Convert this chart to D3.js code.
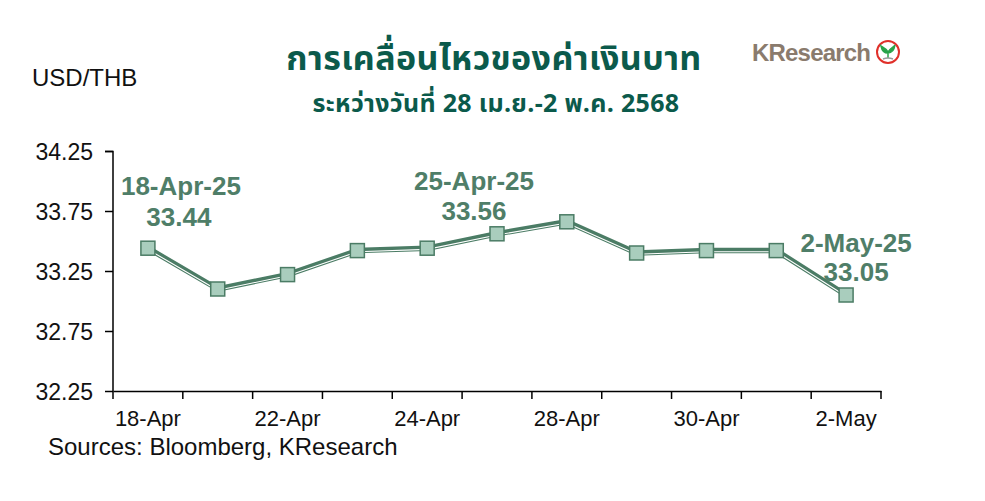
<!DOCTYPE html>
<html><head><meta charset="utf-8">
<script src="https://cdn.jsdelivr.net/npm/d3@7"></script>
<style>
html,body{margin:0;padding:0;background:#fff;}
svg{display:block;}
</style></head>
<body>
<svg id="c" width="985" height="501"></svg>
<script>
const categories = ["18-Apr","21-Apr","22-Apr","23-Apr","24-Apr","25-Apr","28-Apr","29-Apr","30-Apr","1-May","2-May"];
const values = [33.44, 33.10, 33.22, 33.42, 33.44, 33.56, 33.66, 33.40, 33.42, 33.42, 33.05];
const tickLabels = ["18-Apr","22-Apr","24-Apr","28-Apr","30-Apr","2-May"];
const yTicks = [32.25, 32.75, 33.25, 33.75, 34.25];
const callouts = [
  {cat:"18-Apr", date:"18-Apr-25", val:"33.44"},
  {cat:"25-Apr", date:"25-Apr-25", val:"33.56"},
  {cat:"2-May", date:"2-May-25", val:"33.05"}
];
const titleText = "การเคลื่อนไหวของค่าเงินบาท";
const subtitleText = "ระหว่างวันที่ 28 เม.ย.-2 พ.ค. 2568";

const svg = d3.select("#c");
const latin = "'Liberation Sans', Arial, sans-serif";
const thai = "'Noto Sans Thai', 'Noto Sans Thai UI', Tahoma, 'Noto Sans', sans-serif";
const lineC = "#4b7c65", fillC = "#a9cdbd", labelC = "#4f7e68";

const x = d3.scaleBand().domain(categories).range([113, 881]);
const y = d3.scaleLinear().domain([32.25, 34.25]).range([391, 151]);
const cx = d => x(d) + x.bandwidth()/2;

// Title
svg.append("text").attr("x", 494).attr("y", 70).attr("text-anchor","middle")
  .attr("font-family", thai).attr("font-weight","bold").attr("font-size", 34)
  .attr("letter-spacing", 0.4)
  .attr("fill","#0b5a4b").text(titleText);
svg.append("text").attr("x", 496).attr("y", 112).attr("text-anchor","middle")
  .attr("font-family", thai).attr("font-weight","bold").attr("font-size", 25)
  .attr("letter-spacing", 0.3)
  .attr("fill","#0b5a4b").text(subtitleText);

// Logo
svg.append("text").attr("x", 752).attr("y", 61).attr("font-family", latin)
  .attr("font-size", 24).attr("font-weight","bold").attr("fill","#8a7b6d")
  .attr("letter-spacing", -0.8).text("KResearch");
const lg = svg.append("g").attr("transform","translate(888,52)");
lg.append("circle").attr("r",11).attr("fill","#fff").attr("stroke","#e0302a").attr("stroke-width",2);
lg.append("path").attr("d","M0,6 L0,-1 M0,0 C-2,-4 -6,-5 -7,-6 C-6,-1 -3,1 0,1 M0,0 C2,-4 6,-5 7,-7 C6,-1 3,1 0,1")
  .attr("fill","#2aa34a").attr("stroke","#2aa34a").attr("stroke-width",1.5);
lg.append("path").attr("d","M-5,7 Q0,5 5,7").attr("fill","none").attr("stroke","#9a9a9a").attr("stroke-width",1.5);

// USD/THB
svg.append("text").attr("x", 32).attr("y", 86).attr("font-family", latin)
  .attr("font-size", 24).attr("fill","#111").text("USD/THB");

// Y axis
const yAxis = d3.axisLeft(y).tickValues(yTicks).tickFormat(d3.format(".2f")).tickSize(8).tickPadding(12);
const gy = svg.append("g").attr("transform","translate(113,0)").call(yAxis);
gy.select(".domain").attr("stroke","#000").attr("stroke-width",1.5).attr("d","M-8,151.5H0V391");
gy.selectAll(".tick line").attr("stroke","#000").attr("stroke-width",1.5);
gy.selectAll(".tick text").attr("font-family", latin).attr("font-size", 23).attr("fill","#111").attr("dy","0.35em");

// X axis
const xAxis = d3.axisBottom(x).tickValues([]).tickSizeOuter(0);
const gx = svg.append("g").attr("transform","translate(0,391)").call(xAxis);
gx.select(".domain").attr("stroke","#000").attr("stroke-width",1.5);
const edges = categories.map(c => x(c)).concat([x(categories[categories.length-1]) + x.bandwidth()]);
gx.selectAll("line.edge").data(edges).enter().append("line").attr("class","edge")
  .attr("x1", d=>d).attr("x2", d=>d).attr("y1",0).attr("y2",8).attr("stroke","#000").attr("stroke-width",1.5);
gx.selectAll("text.lbl").data(tickLabels).enter().append("text").attr("class","lbl")
  .attr("x", d=>cx(d)).attr("y", 35).attr("text-anchor","middle")
  .attr("font-family", latin).attr("font-size", 22).attr("fill","#111").text(d=>d);

// Sources
svg.append("text").attr("x", 48).attr("y", 455).attr("font-family", latin)
  .attr("font-size", 24).attr("fill","#111").text("Sources: Bloomberg, KResearch");

// Line
const data = categories.map((c,i)=>({c, v: values[i]}));
const line = d3.line().x(d=>cx(d.c)).y(d=>y(d.v));
svg.append("path").datum(data).attr("d", line).attr("fill","none")
  .attr("stroke", lineC).attr("stroke-width", 5.5).attr("stroke-linejoin","round");
svg.append("path").datum(data).attr("d", line).attr("fill","none")
  .attr("transform","translate(0,1.2)")
  .attr("stroke", "#fff").attr("stroke-width", 1.1).attr("stroke-linejoin","round");

// Markers
svg.selectAll("rect.m").data(data).enter().append("rect").attr("class","m")
  .attr("x", d=>cx(d.c)-7).attr("y", d=>y(d.v)-7).attr("width",14).attr("height",14)
  .attr("fill", fillC).attr("stroke", lineC).attr("stroke-width",1.5);

// Callouts
const offs = {
  "18-Apr":{dx1:33, dx2:31, y1:195, y2:226},
  "25-Apr":{dx1:-23, dx2:-23, y1:190, y2:220},
  "2-May":{dx1:10, dx2:10, y1:252, y2:281}
};
callouts.forEach(c=>{
  const o = offs[c.cat];
  svg.append("text").attr("x", cx(c.cat)+o.dx1).attr("y", o.y1).attr("text-anchor","middle")
    .attr("font-family", latin).attr("font-weight","bold").attr("font-size", 26).attr("fill", labelC).text(c.date);
  svg.append("text").attr("x", cx(c.cat)+o.dx2).attr("y", o.y2).attr("text-anchor","middle")
    .attr("font-family", latin).attr("font-weight","bold").attr("font-size", 26).attr("fill", labelC).text(c.val);
});
</script>
</body></html>
